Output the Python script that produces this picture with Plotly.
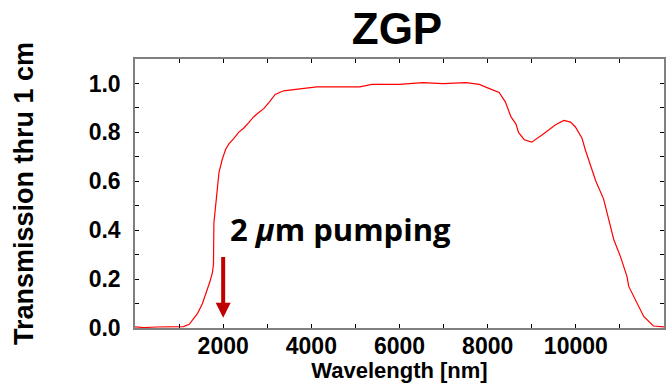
import plotly.graph_objects as go

wavelength_nm = [0, 200, 500, 800, 1000, 1100, 1230, 1320, 1420, 1530, 1640, 1700, 1755, 1780,
                 1790, 1830, 1870, 1905, 1980, 2055, 2130, 2240, 2350, 2470, 2580, 2690, 2800,
                 2920, 3050, 3180, 3370, 3750, 4120, 4600, 5100, 5370, 5600, 6000, 6530, 6980,
                 7510, 7810, 8040, 8260, 8400, 8530, 8640, 8700, 8830, 9000, 9240, 9540, 9730,
                 9880, 9990, 10140, 10220, 10450, 10630, 10750, 10860, 11010, 11160, 11200,
                 11350, 11540, 11760, 11900, 12000]
transmission = [0.005, 0.002, 0.004, 0.005, 0.005, 0.006, 0.015, 0.035, 0.06, 0.10, 0.156, 0.19,
                0.225, 0.26, 0.43, 0.50, 0.58, 0.636, 0.69, 0.73, 0.753, 0.774, 0.80, 0.818,
                0.84, 0.863, 0.88, 0.897, 0.925, 0.955, 0.97, 0.979, 0.986, 0.986, 0.986, 0.996,
                0.996, 0.996, 1.003, 0.999, 1.003, 0.996, 0.979, 0.963, 0.925, 0.863, 0.835,
                0.80, 0.77, 0.76, 0.79, 0.831, 0.849, 0.842, 0.822, 0.776, 0.726, 0.602, 0.527,
                0.444, 0.362, 0.293, 0.211, 0.17, 0.115, 0.047, 0.008, 0.005, 0.005]

x_tick_vals = [2000, 4000, 6000, 8000, 10000]
x_tick_text = ["2000", "4000", "6000", "8000", "10000"]
y_tick_vals = [0.0, 0.2, 0.4, 0.6, 0.8, 1.0]
y_tick_text = ["0.0", "0.2", "0.4", "0.6", "0.8", "1.0"]

pump_wavelength = 2000
arrow_tip = 0.042
arrow_tail = 0.296
label_x = 2100
label_y = 0.405

fig = go.Figure()
fig.add_trace(go.Scatter(x=wavelength_nm, y=transmission, mode="lines",
                         line=dict(color="#ff0000", width=1.2), showlegend=False,
                         hoverinfo="skip"))

tickfont = dict(family="Liberation Sans, Arial, sans-serif", size=23, color="black", weight=700)

fig.update_layout(
    width=669, height=383,
    margin=dict(l=135, r=3, t=59, b=55),
    paper_bgcolor="white", plot_bgcolor="white",
    title=dict(text="ZGP", x=397 / 669, xanchor="center", y=1 - 29 / 383, yanchor="middle",
               xref="container", yref="container",
               font=dict(family="Liberation Sans Narrow, Liberation Sans, sans-serif",
                         size=44, color="black", weight=700)),
)

fig.update_xaxes(
    range=[0, 12000], tickvals=x_tick_vals, ticktext=x_tick_text,
    ticks="inside", ticklen=4, tickwidth=1, tickcolor="black",
    minor=dict(dtick=1000, tick0=0, ticks="inside", ticklen=4, tickcolor="black", showgrid=False),
    showline=True, linecolor="#808080", linewidth=1.5, mirror="ticks",
    showgrid=False, zeroline=False, tickfont=tickfont, ticklabelstandoff=-3,
    title=dict(text="Wavelength [nm]", standoff=4,
               font=dict(family="Liberation Sans, Arial, sans-serif", size=22, color="black", weight=700)),
)
fig.update_yaxes(
    range=[0, 1.1], tickvals=y_tick_vals, ticktext=y_tick_text,
    ticks="inside", ticklen=4, tickwidth=1, tickcolor="black",
    minor=dict(dtick=0.1, tick0=0, ticks="inside", ticklen=4, tickcolor="black", showgrid=False),
    showline=True, linecolor="#808080", linewidth=1.5, mirror="ticks",
    showgrid=False, zeroline=False, tickfont=tickfont, ticklabelstandoff=8,
    title=dict(text="Transmission thru 1 cm", standoff=47,
               font=dict(family="Liberation Sans, Arial, sans-serif", size=27, color="black", weight=700)),
)

fig.add_annotation(x=pump_wavelength, y=arrow_tip, ax=pump_wavelength, ay=arrow_tail,
                   xref="x", yref="y", axref="x", ayref="y", text="",
                   showarrow=True, arrowhead=2, arrowsize=0.75, arrowwidth=4,
                   arrowcolor="#c00000")
fig.add_annotation(x=label_x, y=label_y, xref="x", yref="y", xanchor="left", yanchor="middle",
                   text="2 <i>μ</i>m pumping", showarrow=False,
                   font=dict(family="Open Sans, sans-serif", size=31, color="black", weight=700))

fig.write_html("out.html")
